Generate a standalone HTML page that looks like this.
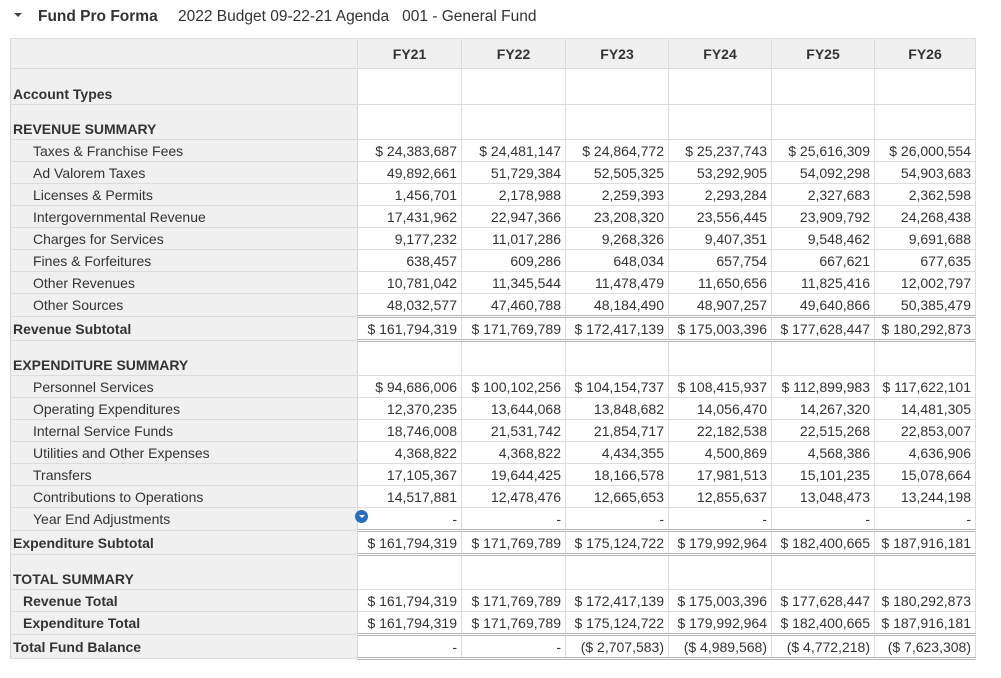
<!DOCTYPE html>
<html><head><meta charset="utf-8"><style>
body{margin:0;background:#fff;font-family:"Liberation Sans",sans-serif;color:#333;width:1001px;height:678px;overflow:hidden;position:relative}
.title{position:absolute;top:8px;left:14px;font-size:15.5px;white-space:nowrap}
.title b{color:#333;margin-right:16px}
.title .tri{display:inline-block;width:0;height:0;border-left:4px solid transparent;border-right:4px solid transparent;border-top:4px solid #444;margin-right:16px;vertical-align:middle;position:relative;top:-2px}
table{position:absolute;left:10px;top:38px;border-collapse:collapse;table-layout:fixed;font-size:14px}
td{padding:0 4px;white-space:nowrap;border:1px solid #dcdcdc;overflow:hidden}
td.l{background:#f0f0f0;border-left:1px solid #d4d4d4;border-right:1px solid #d4d4d4;padding-left:2px}
td.v{text-align:right}
tr.h td{background:#f0f0f0;font-weight:bold;text-align:center;height:29px}
tr.r td{height:21px}
.i1{padding-left:22px!important}
.i2{padding-left:12px!important;font-weight:bold}
.b{font-weight:bold}
tr.dt td.v{border-top:3px double #b8b8b8}
tr.db td.v{border-bottom:3px double #b8b8b8}
tr.sec td{vertical-align:bottom;padding-bottom:2px}
.dot{position:absolute;left:355px;top:510px;width:13px;height:13px;border-radius:50%;background:#2a6ebb}
.dot:after{content:"";position:absolute;left:3.5px;top:5px;border-left:3px solid transparent;border-right:3px solid transparent;border-top:3px solid #fff}
</style></head><body>
<div class="title"><span class="tri"></span><b>Fund Pro Forma</b> 2022 Budget 09-22-21 Agenda&nbsp;&nbsp;&nbsp;001 - General Fund</div>
<table>
<colgroup><col style="width:347px"><col style="width:104px"><col style="width:104px"><col style="width:103px"><col style="width:103px"><col style="width:103px"><col style="width:101px"></colgroup>
<tr class="h"><td></td><td>FY21</td><td>FY22</td><td>FY23</td><td>FY24</td><td>FY25</td><td>FY26</td></tr>
<tr class="sec"><td class="l b" style="height:33px">Account Types</td><td></td><td></td><td></td><td></td><td></td><td></td></tr>
<tr class="sec"><td class="l b" style="height:32px">REVENUE SUMMARY</td><td></td><td></td><td></td><td></td><td></td><td></td></tr>
<tr class="r"><td class="l i1">Taxes &amp; Franchise Fees</td><td class="v">$ 24,383,687</td><td class="v">$ 24,481,147</td><td class="v">$ 24,864,772</td><td class="v">$ 25,237,743</td><td class="v">$ 25,616,309</td><td class="v">$ 26,000,554</td></tr>
<tr class="r"><td class="l i1">Ad Valorem Taxes</td><td class="v">49,892,661</td><td class="v">51,729,384</td><td class="v">52,505,325</td><td class="v">53,292,905</td><td class="v">54,092,298</td><td class="v">54,903,683</td></tr>
<tr class="r"><td class="l i1">Licenses &amp; Permits</td><td class="v">1,456,701</td><td class="v">2,178,988</td><td class="v">2,259,393</td><td class="v">2,293,284</td><td class="v">2,327,683</td><td class="v">2,362,598</td></tr>
<tr class="r"><td class="l i1">Intergovernmental Revenue</td><td class="v">17,431,962</td><td class="v">22,947,366</td><td class="v">23,208,320</td><td class="v">23,556,445</td><td class="v">23,909,792</td><td class="v">24,268,438</td></tr>
<tr class="r"><td class="l i1">Charges for Services</td><td class="v">9,177,232</td><td class="v">11,017,286</td><td class="v">9,268,326</td><td class="v">9,407,351</td><td class="v">9,548,462</td><td class="v">9,691,688</td></tr>
<tr class="r"><td class="l i1">Fines &amp; Forfeitures</td><td class="v">638,457</td><td class="v">609,286</td><td class="v">648,034</td><td class="v">657,754</td><td class="v">667,621</td><td class="v">677,635</td></tr>
<tr class="r"><td class="l i1">Other Revenues</td><td class="v">10,781,042</td><td class="v">11,345,544</td><td class="v">11,478,479</td><td class="v">11,650,656</td><td class="v">11,825,416</td><td class="v">12,002,797</td></tr>
<tr class="r"><td class="l i1">Other Sources</td><td class="v">48,032,577</td><td class="v">47,460,788</td><td class="v">48,184,490</td><td class="v">48,907,257</td><td class="v">49,640,866</td><td class="v">50,385,479</td></tr>
<tr class="r dt db"><td class="l b">Revenue Subtotal</td><td class="v">$ 161,794,319</td><td class="v">$ 171,769,789</td><td class="v">$ 172,417,139</td><td class="v">$ 175,003,396</td><td class="v">$ 177,628,447</td><td class="v">$ 180,292,873</td></tr>
<tr class="sec"><td class="l b" style="height:32px">EXPENDITURE SUMMARY</td><td></td><td></td><td></td><td></td><td></td><td></td></tr>
<tr class="r"><td class="l i1">Personnel Services</td><td class="v">$ 94,686,006</td><td class="v">$ 100,102,256</td><td class="v">$ 104,154,737</td><td class="v">$ 108,415,937</td><td class="v">$ 112,899,983</td><td class="v">$ 117,622,101</td></tr>
<tr class="r"><td class="l i1">Operating Expenditures</td><td class="v">12,370,235</td><td class="v">13,644,068</td><td class="v">13,848,682</td><td class="v">14,056,470</td><td class="v">14,267,320</td><td class="v">14,481,305</td></tr>
<tr class="r"><td class="l i1">Internal Service Funds</td><td class="v">18,746,008</td><td class="v">21,531,742</td><td class="v">21,854,717</td><td class="v">22,182,538</td><td class="v">22,515,268</td><td class="v">22,853,007</td></tr>
<tr class="r"><td class="l i1">Utilities and Other Expenses</td><td class="v">4,368,822</td><td class="v">4,368,822</td><td class="v">4,434,355</td><td class="v">4,500,869</td><td class="v">4,568,386</td><td class="v">4,636,906</td></tr>
<tr class="r"><td class="l i1">Transfers</td><td class="v">17,105,367</td><td class="v">19,644,425</td><td class="v">18,166,578</td><td class="v">17,981,513</td><td class="v">15,101,235</td><td class="v">15,078,664</td></tr>
<tr class="r"><td class="l i1">Contributions to Operations</td><td class="v">14,517,881</td><td class="v">12,478,476</td><td class="v">12,665,653</td><td class="v">12,855,637</td><td class="v">13,048,473</td><td class="v">13,244,198</td></tr>
<tr class="r"><td class="l i1">Year End Adjustments</td><td class="v">-</td><td class="v">-</td><td class="v">-</td><td class="v">-</td><td class="v">-</td><td class="v">-</td></tr>
<tr class="r dt db"><td class="l b">Expenditure Subtotal</td><td class="v">$ 161,794,319</td><td class="v">$ 171,769,789</td><td class="v">$ 175,124,722</td><td class="v">$ 179,992,964</td><td class="v">$ 182,400,665</td><td class="v">$ 187,916,181</td></tr>
<tr class="sec"><td class="l b" style="height:32px">TOTAL SUMMARY</td><td></td><td></td><td></td><td></td><td></td><td></td></tr>
<tr class="r"><td class="l i2">Revenue Total</td><td class="v">$ 161,794,319</td><td class="v">$ 171,769,789</td><td class="v">$ 172,417,139</td><td class="v">$ 175,003,396</td><td class="v">$ 177,628,447</td><td class="v">$ 180,292,873</td></tr>
<tr class="r db"><td class="l i2">Expenditure Total</td><td class="v">$ 161,794,319</td><td class="v">$ 171,769,789</td><td class="v">$ 175,124,722</td><td class="v">$ 179,992,964</td><td class="v">$ 182,400,665</td><td class="v">$ 187,916,181</td></tr>
<tr class="r db"><td class="l b">Total Fund Balance</td><td class="v">-</td><td class="v">-</td><td class="v">($ 2,707,583)</td><td class="v">($ 4,989,568)</td><td class="v">($ 4,772,218)</td><td class="v">($ 7,623,308)</td></tr>
</table>
<div class="dot"></div>
</body></html>
